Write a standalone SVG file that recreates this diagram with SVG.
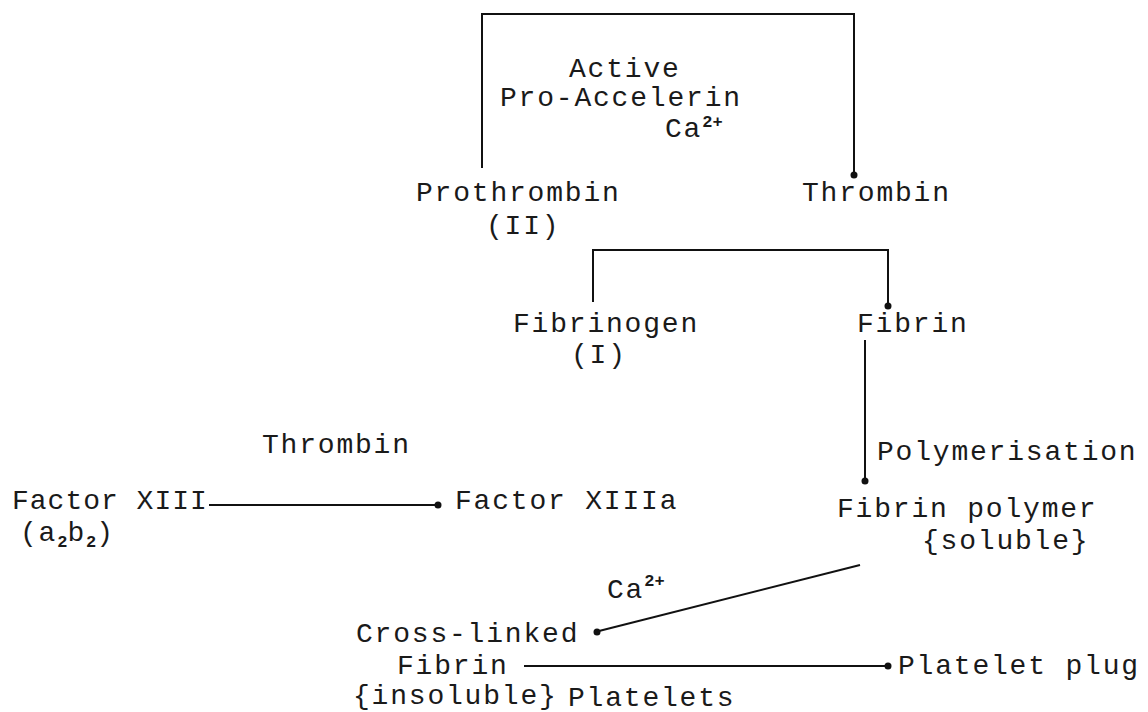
<svg xmlns="http://www.w3.org/2000/svg" width="1148" height="712" viewBox="0 0 1148 712">
<style>
text{font-family:"Liberation Mono","Courier New",monospace;font-size:28px;letter-spacing:1.8px;fill:#1a1a1a}
.sup{font-size:17px;font-weight:bold;letter-spacing:0}
.tight{letter-spacing:1px}
.ln{stroke:#111;stroke-width:2;fill:none}
.dot{fill:#111}
</style>
<rect width="1148" height="712" fill="#fff"/>
<g id="connectors">
<path class="ln" d="M482,168 V14 H854 V174"/>
<circle class="dot" cx="854" cy="175" r="3.5"/>
<path class="ln" d="M593,302 V250 H888 V304"/>
<circle class="dot" cx="888" cy="306" r="3.5"/>
<path class="ln" d="M865,340 V479"/>
<circle class="dot" cx="865" cy="481" r="3.5"/>
<path class="ln" d="M209,505 H436"/>
<circle class="dot" cx="438" cy="505" r="3.5"/>
<path class="ln" d="M860,565 L599,631"/>
<circle class="dot" cx="597" cy="632" r="3.5"/>
<path class="ln" d="M524,666 H886"/>
<circle class="dot" cx="888" cy="666" r="3.5"/>
</g>
<g id="label-active"><text x="569" y="77">Active</text><text x="500" y="106">Pro-Accelerin</text><text x="665" y="137">Ca<tspan class="sup" dy="-10">2+</tspan></text></g>
<g id="node-prothrombin"><text x="416" y="201">Prothrombin</text><text x="486" y="234">(II)</text></g>
<g id="node-thrombin"><text x="802" y="201">Thrombin</text></g>
<g id="node-fibrinogen"><text x="513" y="332">Fibrinogen</text><text x="571" y="363">(I)</text></g>
<g id="node-fibrin"><text x="857" y="332">Fibrin</text></g>
<g id="label-polymerisation"><text x="877" y="460">Polymerisation</text></g>
<g id="label-thrombin2"><text x="262" y="453">Thrombin</text></g>
<g id="node-factor13"><text class="tight" x="12" y="509">Factor XIII</text><text x="20" y="541">(a<tspan class="sup" dy="6">2</tspan><tspan dy="-6">b</tspan><tspan class="sup" dy="6">2</tspan><tspan dy="-6">)</tspan></text></g>
<g id="node-factor13a"><text x="455" y="509">Factor XIIIa</text></g>
<g id="node-fibrin-polymer"><text x="837" y="517">Fibrin polymer</text><text x="922" y="549">{soluble}</text></g>
<g id="label-ca2"><text x="607" y="598">Ca<tspan class="sup" dy="-12">2+</tspan></text></g>
<g id="node-crosslinked"><text x="356" y="642">Cross-linked</text><text x="397" y="674">Fibrin</text><text x="353" y="704">{insoluble}</text></g>
<g id="node-platelet-plug"><text x="898" y="674">Platelet plug</text></g>
<g id="label-platelets"><text x="568" y="706">Platelets</text></g>
</svg>
